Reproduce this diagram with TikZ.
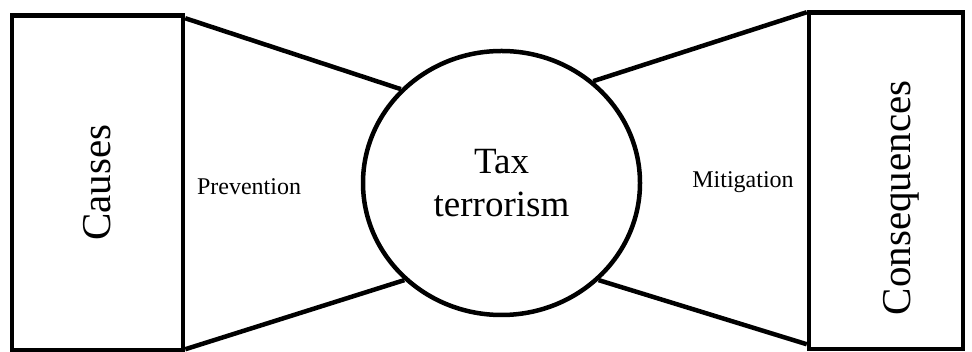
\documentclass[tikz,border=0pt]{standalone}
\usepackage{fontspec}
\setmainfont{Liberation Serif}
\usetikzlibrary{shapes.geometric}

\begin{document}
\begin{tikzpicture}[x=1pt,y=1pt,line width=4.5pt,
        block/.style={draw,rectangle,inner sep=0pt},
        ball/.style={draw,ellipse,inner sep=0pt,align=center,
          minimum width=277pt,minimum height=264pt,
          font=\fontsize{37}{43}\selectfont},
        big/.style={rotate=90,font=\fontsize{41}{49}\selectfont},
        tag/.style={anchor=base,font=\fontsize{24}{28}\selectfont}]
        \useasboundingbox (0,0) rectangle (972,352);

        \node[block, minimum width=171pt, minimum height=334.5pt] (causes) at (97.5,169.25) {};
        \node[block, minimum width=154pt, minimum height=336.5pt] (cons) at (886,171.25) {};
        \node[ball] (tax) at (501.5,169) {Tax\\terrorism};

        \node[big] (ctext) at (causes) {Causes};
        \node[big] (ktext) at ([xshift=15pt,yshift=-17pt]cons.center) {Consequences};

        \node[tag] (prev) at (249,157) {Prevention};
        \node[tag] (miti) at (743,164) {Mitigation};

        % the bow tie
        \draw ([yshift=-5pt]causes.north east) -- (tax.137);
        \draw ([yshift=3pt]causes.south east) -- (tax.225);
        \draw (tax.48) -- ([yshift=-2pt]cons.north west);
        \draw (tax.315) -- ([yshift=7pt]cons.south west);
      \end{tikzpicture}
\end{document}
